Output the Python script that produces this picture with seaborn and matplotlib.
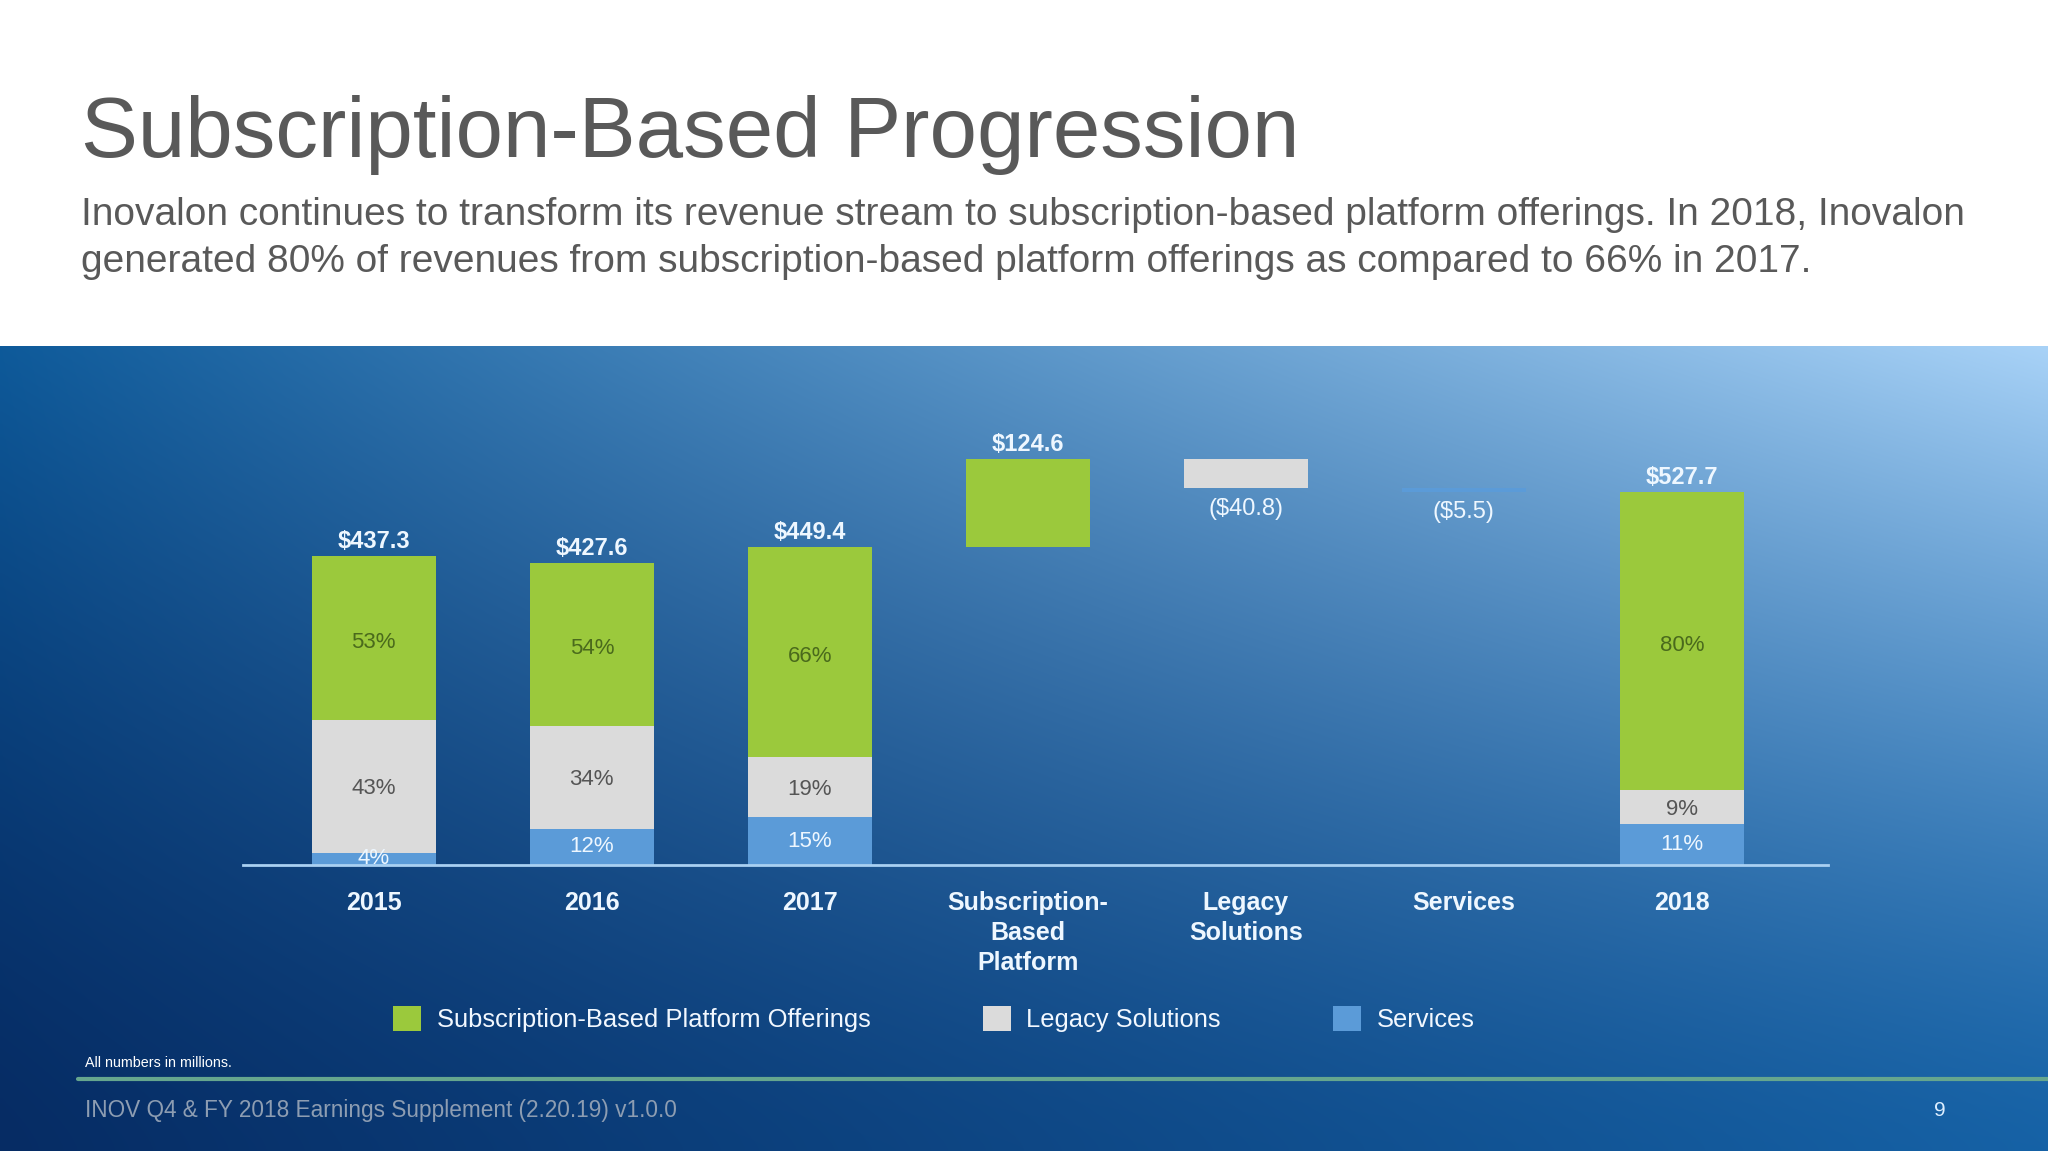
import numpy as np
import pandas as pd
import seaborn as sns
import matplotlib.pyplot as plt
from matplotlib.patches import Patch

# --- data ---
categories = ["2015", "2016", "2017", "Subscription-\nBased\nPlatform",
              "Legacy\nSolutions", "Services", "2018"]
year_cats = ["2015", "2016", "2017", "2018"]
totals = [437.3, 427.6, 449.4, 527.7]
pct_sub = [53, 54, 66, 80]
pct_legacy = [43, 34, 19, 9]
pct_services = [4, 12, 15, 11]
bridge_cats = ["Subscription-\nBased\nPlatform", "Legacy\nSolutions", "Services"]
bridge_changes = [124.6, -40.8, -5.5]
bridge_labels = ["$124.6", "($40.8)", "($5.5)"]
segment_names = ["Subscription-Based Platform Offerings", "Legacy Solutions", "Services"]

GREEN = "#9bc93c"
GREY = "#dbdbdb"
BLUE = "#5b9bd8"
LABEL = "#eef7ff"

# --- stacked / waterfall table ---
rows = []
for cat in categories:
    for seg in segment_names:
        rows.append({"cat": cat, "seg": seg, "height": 0.0, "bottom": 0.0})
df = pd.DataFrame(rows)

for i, y in enumerate(year_cats):
    t = totals[i]
    s_srv = t * pct_services[i] / 100
    s_leg = t * pct_legacy[i] / 100
    s_sub = t * pct_sub[i] / 100
    for seg, h, b in [(segment_names[2], s_srv, 0), (segment_names[1], s_leg, s_srv),
                      (segment_names[0], s_sub, s_srv + s_leg)]:
        m = (df["cat"] == y) & (df["seg"] == seg)
        df.loc[m, "height"] = h
        df.loc[m, "bottom"] = b

# waterfall: 2017 -> 2018
level = totals[2]
bridge_top = []
bridge_bot = []
for cat, seg, ch in zip(bridge_cats, segment_names, bridge_changes):
    lo = level if ch > 0 else level + ch
    m = (df["cat"] == cat) & (df["seg"] == seg)
    df.loc[m, "height"] = abs(ch)
    df.loc[m, "bottom"] = lo
    bridge_bot.append(lo)
    bridge_top.append(lo + abs(ch))
    level += ch

sns.set_style("white")
plt.rcParams["font.family"] = ["Liberation Sans", "DejaVu Sans"]

fig = plt.figure(figsize=(20.48, 11.51), dpi=100, facecolor="white")

# --- gradient panel ---
panel_h = (1151 - 346) / 1151
bg = fig.add_axes([0, 0, 1, panel_h], zorder=0)
H, W = 300, 600
u = np.linspace(0, 1, W)[None, :, None]
v = np.linspace(0, 1, H)[:, None, None]
c_tl = np.array([0x0e, 0x5a, 0x9a]) / 255
c_tr = np.array([0xa8, 0xd2, 0xf7]) / 255
c_bl = np.array([0x06, 0x2c, 0x64]) / 255
c_br = np.array([0x16, 0x62, 0xa6]) / 255
vt = (1 - v) ** 1.4
img = (1 - u) * vt * c_tl + u * vt * c_tr + (1 - u) * (1 - vt) * c_bl + u * (1 - vt) * c_br
bg.imshow(np.clip(img, 0, 1), aspect="auto", extent=[0, 1, 0, 1], interpolation="bilinear")
bg.set_axis_off()

# --- chart ---
ax = fig.add_axes([243 / 2048, 1 - 865 / 1151, (1828 - 243) / 2048, 465 / 1151], zorder=2)
ax.set_facecolor("none")
colors = [GREEN, GREY, BLUE]
for seg, col in zip(segment_names, colors):
    d = df[df["seg"] == seg].set_index("cat").loc[categories].reset_index()
    sns.barplot(data=d, x="cat", y="height", order=categories, color=col,
                saturation=1, width=0.57, errorbar=None, linewidth=0,
                bottom=d["bottom"].to_numpy(), ax=ax)

ax.set_xlim(-0.6, 6.67)
ax.set_ylim(0, 465 / 0.707)
for s in ["top", "right", "left"]:
    ax.spines[s].set_visible(False)
ax.spines["bottom"].set_color("#a9d0f2")
ax.spines["bottom"].set_linewidth(2)
ax.set_yticks([])
ax.set_xlabel("")
ax.set_ylabel("")
ax.tick_params(axis="x", length=0, pad=19)
for lab in ax.get_xticklabels():
    lab.set_fontsize(18)
    lab.set_fontweight("bold")
    lab.set_color(LABEL)
    lab.set_linespacing(1.3)

year_pos = [0, 1, 2, 6]
for i, p in enumerate(year_pos):
    t = totals[i]
    ax.text(p, t + 11, f"${t:.1f}", ha="center", va="baseline", fontsize=17,
            fontweight="bold", color=LABEL)
    s_srv = t * pct_services[i] / 100
    s_leg = t * pct_legacy[i] / 100
    s_sub = t * pct_sub[i] / 100
    ax.text(p, s_srv + s_leg + s_sub / 2 - 6, f"{pct_sub[i]}%", ha="center", va="center",
            fontsize=16, color="#4a6a1c")
    ax.text(p, s_srv + s_leg / 2 - 3, f"{pct_legacy[i]}%", ha="center", va="center",
            fontsize=16, color="#555555")
    ax.text(p, s_srv / 2, f"{pct_services[i]}%", ha="center", va="center",
            fontsize=16, color=LABEL)

for k, (lab, ch) in enumerate(zip(bridge_labels, bridge_changes)):
    p = 3 + k
    if ch > 0:
        ax.text(p, bridge_top[k] + 11, lab, ha="center", va="baseline", fontsize=17,
                color=LABEL, fontweight="bold")
    else:
        ax.text(p, bridge_bot[k] - 29, lab, ha="center", va="center", fontsize=17,
                color=LABEL)

handles = [Patch(facecolor=c, edgecolor="none") for c in colors]
fig.legend(handles, segment_names, loc="center", bbox_to_anchor=(934 / 2048, 1 - 1019 / 1151),
           ncol=3, frameon=False, fontsize=18.4, labelcolor="#f2f8ff",
           handlelength=1.1, handleheight=1.1, handletextpad=0.6, columnspacing=4.4)

# --- slide text ---
fig.text(81 / 2048, 1 - 157 / 1151, "Subscription-Based Progression", fontsize=61.4,
         color="#595959", va="baseline", ha="left")
fig.text(81 / 2048, 1 - 225 / 1151,
         "Inovalon continues to transform its revenue stream to subscription-based platform offerings. In 2018, Inovalon",
         fontsize=28, color="#595959", va="baseline", ha="left")
fig.text(81 / 2048, 1 - 272 / 1151,
         "generated 80% of revenues from subscription-based platform offerings as compared to 66% in 2017.",
         fontsize=28, color="#595959", va="baseline", ha="left")

fig.text(85 / 2048, 1 - 1063 / 1151, "All numbers in millions.", fontsize=10.3,
         color="white", va="center", ha="left")
fig.add_artist(plt.Line2D([78 / 2048, 1], [1 - 1079 / 1151] * 2, color="#66a68e", lw=3,
                          transform=fig.transFigure))
fig.text(85 / 2048, 1 - 1111 / 1151, "INOV Q4 & FY 2018 Earnings Supplement (2.20.19) v1.0.0",
         fontsize=16.3, color="#8d9db2", va="center", ha="left")
fig.text(1940 / 2048, 1 - 1111 / 1151, "9", fontsize=15, color="#dceeff",
         va="center", ha="center")

fig.savefig("out.png", dpi=100, facecolor="white")
